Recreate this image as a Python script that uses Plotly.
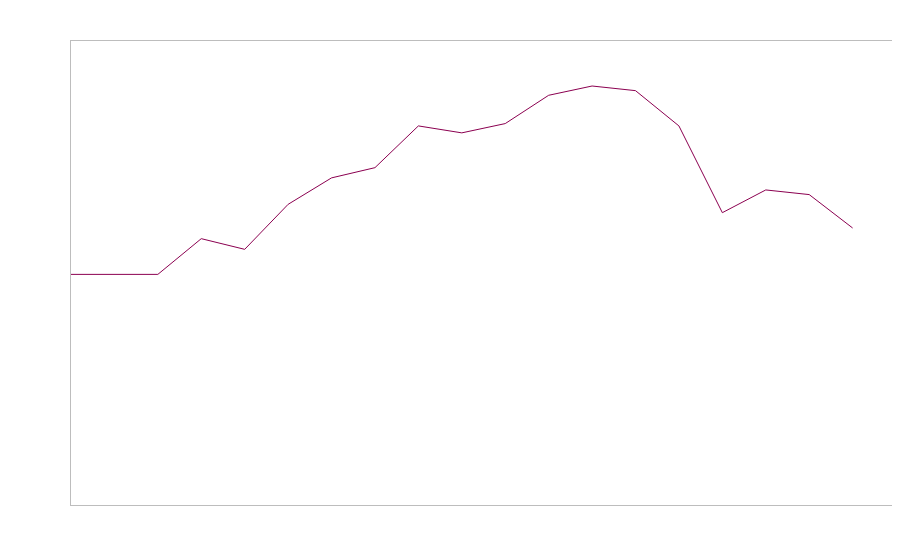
import plotly.graph_objects as go

# index positions and values
x_idx = list(range(19))
values = [49.7, 49.7, 49.7, 57.4, 55.1, 64.8, 70.5, 72.7, 81.7, 80.2,
          82.2, 88.3, 90.3, 89.3, 81.7, 63.0, 67.9, 66.9, 59.7]

fig = go.Figure()
fig.add_trace(go.Scatter(
    x=x_idx, y=values, mode="lines",
    line={"color": "#8b0050", "width": 1},
    showlegend=False, hoverinfo="skip",
))

axis_style = {
    "showline": True, "mirror": True, "linecolor": "#bdbdbd", "linewidth": 1,
    "showgrid": False, "zeroline": False, "showticklabels": False, "ticks": "",
}
# page body adds a small offset, so the figure is kept small enough to avoid scrollbars
fig.update_layout(
    width=890, height=536,
    margin={"l": 63, "r": 5, "t": 33, "b": 39},
    paper_bgcolor="white", plot_bgcolor="white",
    xaxis={**axis_style, "range": [0, 18.93]},
    yaxis={**axis_style, "range": [0, 100]},
)
fig.write_html("out.html")
